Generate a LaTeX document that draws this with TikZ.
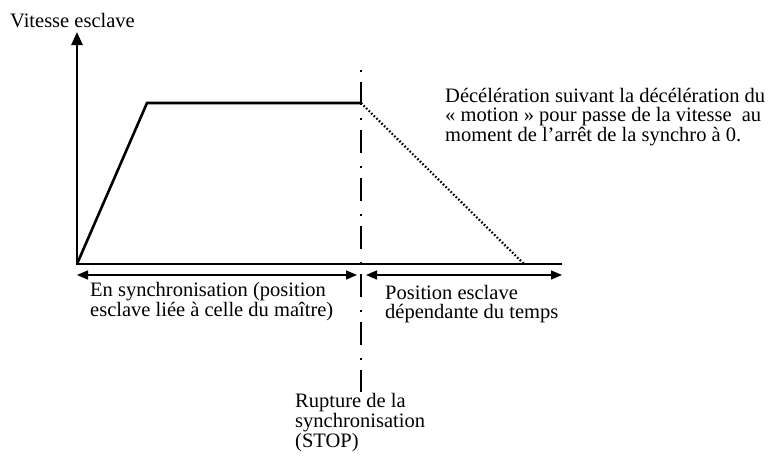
\documentclass[tikz,border=0pt]{standalone}
\usepackage{fontspec}
\setmainfont{Liberation Serif}
\usetikzlibrary{arrows.meta}

\begin{document}
\begin{tikzpicture}[x=1pt, y=-1pt,
  axis/.style={line width=2.6pt, line join=miter},
  span/.style={line width=1.4pt, {Triangle[length=11pt,width=9pt]}-{Triangle[length=11pt,width=9pt]}},
  txt/.style={anchor=base west, inner sep=0pt, align=left, font=\fontsize{20.5}{18.5}\selectfont}]
  \useasboundingbox (0,0) rectangle (771,461);
  \coordinate (origin) at (77,264);
  \coordinate (vtop) at (77,32);
  \coordinate (tend) at (562,264);
  \coordinate (rampend) at (147,103);
  \coordinate (stop) at (361,103);
  \coordinate (zero) at (524,264);
  \coordinate (stoptop) at (361,70);
  \coordinate (stopbot) at (361,392);
  \coordinate (syncL) at (77,275);
  \coordinate (syncR) at (357,275);
  \coordinate (freeL) at (366,275);
  \coordinate (freeR) at (562,275);

  \draw[axis, -{Triangle[length=13pt,width=11pt]}] (tend) -- (origin) -- (vtop);
  \draw[axis] (origin) -- (rampend) -- (stop);
  \draw[line width=2.2pt, dash pattern=on 1.6pt off 2pt] (stop) -- (zero);
  \draw[line width=2.4pt, dash pattern=on 2pt off 10pt on 23pt off 13pt] (stoptop) -- (stopbot);
  \draw[span] (syncL) -- (syncR);
  \draw[span] (freeL) -- (freeR);

  % multi-line nodes sit on the baseline of their last line
  \node[txt] (yname) at (10,27) {Vitesse esclave};
  \node[txt] (decel) at (445,141) {Décélération suivant la décélération du\\« motion » pour passe de la vitesse\ \ au\\moment de l’arrêt de la synchro à 0.};
  \node[txt] (sync) at (90,316) {En synchronisation (position\\esclave liée à celle du maître)};
  \node[txt] (free) at (385,318) {Position esclave\\dépendante du temps};
  \node[txt] (rupture) at (295,447) {Rupture de la\\synchronisation\\(STOP)};
\end{tikzpicture}
\end{document}
